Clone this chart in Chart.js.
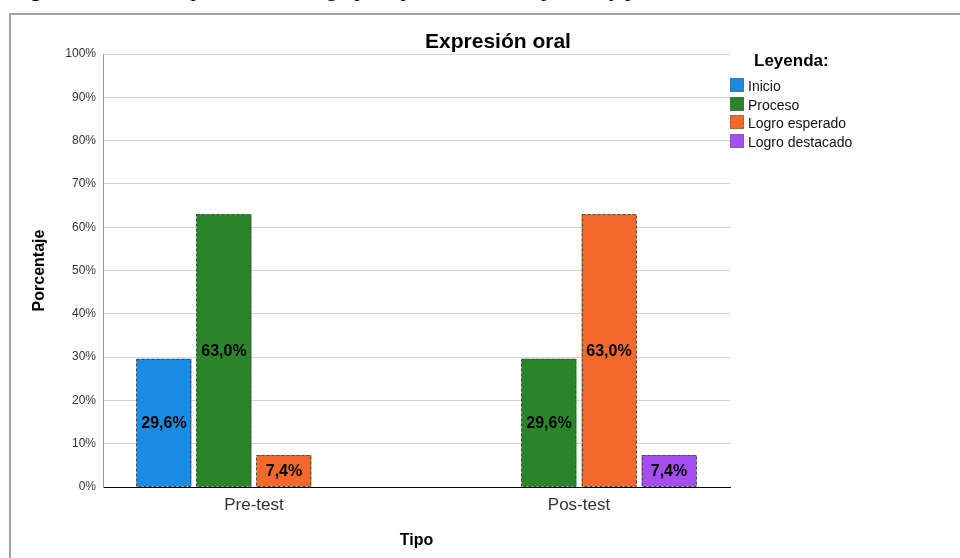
<!DOCTYPE html>
<html>
<head>
<meta charset="utf-8">
<title>Expresión oral</title>
<script src="https://cdn.jsdelivr.net/npm/chart.js@4.4.1/dist/chart.umd.min.js"></script>
<style>
body { margin: 0; background: #fff; }
#wrap { position: relative; width: 960px; height: 558px; overflow: hidden; }
#cap { position: absolute; left: 12px; top: 0; width: 940px; height: 8px; overflow: hidden;
       font-family: "Liberation Serif", "Times New Roman", serif; font-size: 21px; line-height: 21px;
       white-space: nowrap; color: #000; }
#cap span { display: block; margin-top: -21px; }
#frame { position: absolute; left: 9px; top: 13px; width: 1000px; height: 600px;
         border: 2px solid #a5a5a5; pointer-events: none; }
canvas { position: absolute; left: 0; top: 0; }
</style>
</head>
<body>
<div id="wrap">
  <div id="cap"><span><b>Figura 5</b> Nivel de expresión oral del grupo experimental en el pre-test y pos-test</span></div>
  <canvas id="myChart" width="960" height="558"></canvas>
  <div id="frame"></div>
</div>
<script>
var tipos = ['Pre-test', 'Pos-test'];
var niveles = ['Inicio', 'Proceso', 'Logro esperado', 'Logro destacado'];
// porcentajes por tipo (Pre-test, Pos-test)
var inicio = [29.6, null];
var proceso = [63.0, 29.6];
var logroEsperado = [7.4, 63.0];
var logroDestacado = [null, 7.4];
var colores = ['#1a8ce3', '#2a842a', '#f26a2b', '#a54ef0'];

var FONT = '"Liberation Sans", Arial, sans-serif';
Chart.defaults.font.family = FONT;

function puntos(vals) {
  return vals.map(function(v, i) { return {x: i, y: v}; });
}

var serie = [inicio, proceso, logroEsperado, logroDestacado];
var datasets = [];
for (var i = 0; i < niveles.length; i++) {
  datasets.push({
    label: niveles[i],
    data: puntos(serie[i]),
    backgroundColor: colores[i],
    borderWidth: 0,
    categoryPercentage: 0.7385,
    barPercentage: 0.9167
  });
}

function fmt(v) {
  return v.toFixed(1).replace('.', ',') + '%';
}

// dashed borders, labels, title and legend
var extras = {
  id: 'extras',
  afterDatasetsDraw: function(chart) {
    var ctx = chart.ctx;
    chart.data.datasets.forEach(function(ds, di) {
      var meta = chart.getDatasetMeta(di);
      meta.data.forEach(function(bar, i) {
        var v = ds.data[i].y;
        if (v === null || v === undefined) return;
        var p = bar.getProps(['x', 'y', 'base', 'width'], true);
        var l = Math.round(p.x - p.width / 2);
        var t = Math.round(p.y);
        ctx.save();
        ctx.strokeStyle = '#4a4a4a';
        ctx.lineWidth = 1;
        ctx.setLineDash([3, 2]);
        ctx.strokeRect(l + 0.5, t + 0.5, Math.round(p.width) - 1, Math.round(p.base) - t - 1);
        ctx.setLineDash([]);
        ctx.fillStyle = '#000';
        ctx.font = 'bold 16px ' + FONT;
        ctx.textAlign = 'center';
        ctx.textBaseline = 'middle';
        ctx.fillText(fmt(v), p.x, (p.y + p.base) / 2 + 1);
        ctx.restore();
      });
    });
  },
  afterDraw: function(chart) {
    var ctx = chart.ctx;
    var area = chart.chartArea;
    ctx.save();
    ctx.fillStyle = '#000';
    ctx.textAlign = 'center';
    ctx.textBaseline = 'alphabetic';
    ctx.font = 'bold 21px ' + FONT;
    ctx.fillText('Expresión oral', 498, area.top - 6);

    // legend
    var lx = area.right;
    ctx.textAlign = 'left';
    ctx.font = 'bold 17px ' + FONT;
    ctx.fillText('Leyenda:', lx + 24, 66);
    ctx.font = '14px ' + FONT;
    chart.data.datasets.forEach(function(ds, i) {
      var y = 78 + i * 18.5;
      ctx.fillStyle = ds.backgroundColor;
      ctx.fillRect(lx, Math.round(y), 14, 14);
      ctx.strokeStyle = '#666';
      ctx.lineWidth = 1;
      ctx.setLineDash([2, 2]);
      ctx.strokeRect(lx + 0.5, Math.round(y) + 0.5, 13, 13);
      ctx.setLineDash([]);
      ctx.fillStyle = '#111';
      ctx.fillText(ds.label, lx + 18, Math.round(y) + 13);
    });
    ctx.restore();
  }
};

new Chart(document.getElementById('myChart'), {
  type: 'bar',
  data: { datasets: datasets },
  options: {
    responsive: false,
    animation: false,
    layout: { padding: { left: 20, right: 230, top: 54, bottom: 0 } },
    plugins: {
      legend: { display: false },
      title: { display: false },
      tooltip: { enabled: false }
    },
    scales: {
      x: {
        type: 'linear',
        offset: false,
        min: -0.4646,
        max: 1.4646,
        afterBuildTicks: function(s) {
          s.ticks = tipos.map(function(t, i) { return {value: i}; });
        },
        afterFit: function(s) { s.height = 71; },
        grid: { display: false, drawTicks: false, offset: false },
        border: { display: true, color: '#000', width: 1 },
        ticks: {
          padding: 8,
          color: '#333',
          font: { size: 17 },
          callback: function(v) { return tipos[v]; }
        },
        title: {
          display: true,
          text: 'Tipo',
          color: '#000',
          font: { size: 16, weight: 'bold' },
          padding: { top: 0, bottom: 8 }
        }
      },
      y: {
        min: 0,
        max: 100,
        afterFit: function(s) { s.width = 83; },
        grid: { color: '#d4d4d4', drawTicks: false },
        border: { color: '#999' },
        ticks: {
          stepSize: 10,
          padding: 7,
          color: '#333',
          font: { size: 12 },
          callback: function(v) { return v + '%'; }
        },
        title: {
          display: true,
          text: 'Porcentaje',
          color: '#000',
          font: { size: 16, weight: 'bold' },
          padding: { top: 10, bottom: 0 }
        }
      }
    }
  },
  plugins: [extras]
});
</script>
</body>
</html>
